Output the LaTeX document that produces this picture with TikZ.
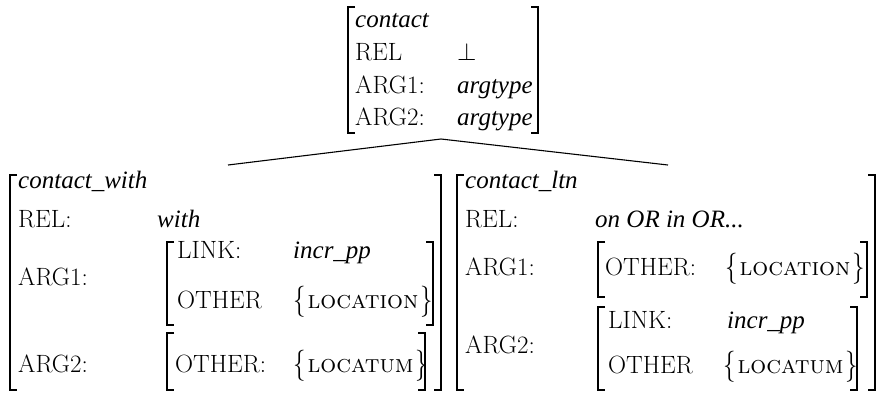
\documentclass[tikz,border=0pt]{standalone}
\usepackage{fontspec}
\usepackage{graphicx}
\newfontfamily\tim{Liberation Serif}
\newcommand\sx[1]{#1}
\newcommand\itx[1]{\sx{\tim\itshape #1}}
\newcommand\bigbr[1]{\raisebox{-0.06em}{\scalebox{1}[1.25]{$\big#1$}}}
\newcommand\setb[1]{\bigbr\{\kern0.08em\textsc{#1}\kern0.08em\bigbr\}}
\tikzset{
  lbl/.style={anchor=base west, inner sep=0pt, font=\fontsize{25}{30}\selectfont},
  brk/.style={line width=1.6pt, line cap=butt},
  edge/.style={line width=1.1pt}
}
\newcommand\lbrk[3]{\draw[brk] (#1+7,#2) -- (#1,#2) -- (#1,#3) -- (#1+7,#3);}
\newcommand\rbrk[3]{\draw[brk] (#1-7,#2) -- (#1,#2) -- (#1,#3) -- (#1-7,#3);}
\begin{document}
\begin{tikzpicture}[x=1pt,y=-1pt]
\useasboundingbox (0,0) rectangle (880,392);
% ---- top box
\lbrk{348}{7}{133}
\rbrk{538}{7}{133}
\node[lbl] (t0) at (355,27) {\itx{contact}};
\node[lbl] (t1) at (355,60) {\sx{REL}};
\node[lbl] (t1v) at (457,60) {\sx{$\bot$}};
\node[lbl] (t2) at (355,93) {\sx{ARG1:}};
\node[lbl] (t2v) at (457,93) {\itx{argtype}};
\node[lbl] (t3) at (355,125) {\sx{ARG2:}};
\node[lbl] (t3v) at (457,125) {\itx{argtype}};
% ---- tree lines
\coordinate (apex) at (441,139);
\coordinate (lend) at (228,165);
\coordinate (rend) at (668,165);
\draw[edge] (apex) -- (lend);
\draw[edge] (apex) -- (rend);
% ---- bottom left box
\lbrk{10}{175}{390}
\rbrk{441}{175}{390}
\node[lbl] (a0) at (18,188) {\itx{contact\_with}};
\node[lbl] (a1) at (18,227) {\sx{REL:}};
\node[lbl] (a1v) at (157,227) {\itx{with}};
\node[lbl] (a2) at (18,285) {\sx{ARG1:}};
\lbrk{167}{242}{325}
\rbrk{433}{242}{325}
\node[lbl] (a2a) at (177,258) {\sx{LINK:}};
\node[lbl] (a2av) at (293,258) {\itx{incr\_pp}};
\node[lbl] (a2b) at (177,308) {\sx{OTHER}};
\node[lbl] (a2bv) at (293,308) {\setb{location}};
\node[lbl] (a3) at (18,372) {\sx{ARG2:}};
\lbrk{167}{333}{390}
\rbrk{425}{333}{390}
\node[lbl] (a3a) at (175,372) {\sx{OTHER:}};
\node[lbl] (a3av) at (293,372) {\setb{locatum}};
% ---- bottom right box
\lbrk{457}{175}{390}
\rbrk{875}{175}{390}
\node[lbl] (b0) at (465,188) {\itx{contact\_ltn}};
\node[lbl] (b1) at (465,227) {\sx{REL:}};
\node[lbl] (b1v) at (595,227) {\itx{on OR in OR...}};
\node[lbl] (b2) at (465,275) {\sx{ARG1:}};
\lbrk{598}{242}{297}
\rbrk{867}{242}{297}
\node[lbl] (b2a) at (605,275) {\sx{OTHER:}};
\node[lbl] (b2av) at (725,275) {\setb{location}};
\node[lbl] (b3) at (465,353) {\sx{ARG2:}};
\lbrk{598}{307}{390}
\rbrk{857}{307}{390}
\node[lbl] (b3a) at (608,328) {\sx{LINK:}};
\node[lbl] (b3av) at (727,328) {\itx{incr\_pp}};
\node[lbl] (b3b) at (608,373) {\sx{OTHER}};
\node[lbl] (b3bv) at (723,373) {\setb{locatum}};
\end{tikzpicture}
\end{document}
